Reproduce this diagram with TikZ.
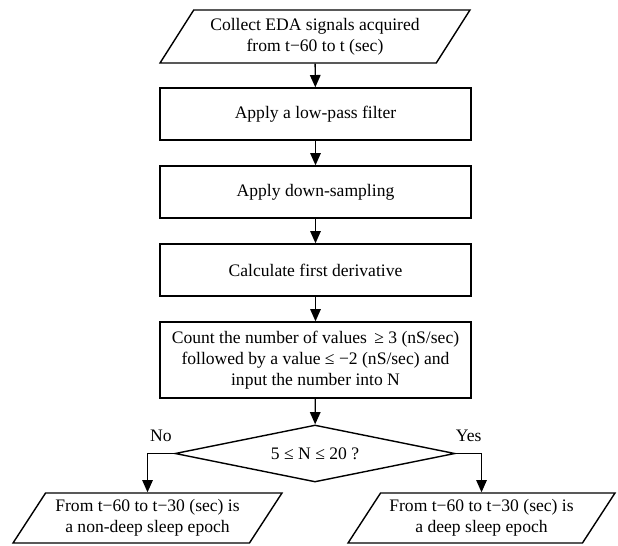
\documentclass[tikz,border=0pt]{standalone}
\usepackage{fontspec}
\setmainfont{Liberation Serif}
\usetikzlibrary{positioning}
\usetikzlibrary{shapes.geometric,arrows.meta}

\tikzset{
  procbox/.style={draw, line width=0.8pt, minimum width=6.22cm, minimum height=1.04cm, align=center, inner sep=1pt},
  iobox/.style={draw, line width=0.8pt, trapezium, trapezium stretches body, trapezium left angle=50, trapezium right angle=130, align=center, inner sep=1pt},
  decbox/.style={draw, line width=0.8pt, diamond, aspect=4.9, minimum width=5.6cm, minimum height=1.14cm, inner sep=0pt},
  flowarrow/.style={line width=0.8pt, -{Triangle[length=7pt,width=6pt]}}
}

\begin{document}
\begin{tikzpicture}[x=0.02cm, y=-0.02cm, font=\fontsize{10}{11.8}\selectfont]
            \useasboundingbox (0,0) rectangle (618,545);
            
            % Input
            \node[iobox, minimum width=6.2cm, minimum height=1.06cm] (collect) at (315,36.5)
            {Collect EDA signals acquired\\from t−60 to t (sec)};
            
            % Processing steps
            \node[procbox] (lowpass) at (315.5,114) {Apply a low-pass filter};
            \node[procbox] (downsamp) at (315.5,192) {Apply down-sampling};
            \node[procbox] (deriv) at (315.5,270) {Calculate first derivative};
            \node[procbox, minimum height=1.52cm] (count) at (315.5,360)
            {Count the number of values \,≥ 3 (nS/sec)\\followed by a value ≤ −2 (nS/sec) and\\input the number into N};
            
            % Decision
            \node[decbox] (check) at (315,453.5) {5 ≤ N ≤ 20 ?};
            
            % Outputs
            \node[iobox, trapezium left angle=51, trapezium right angle=129, minimum width=5.38cm, minimum height=1.0cm] (nondeep) at (147.5,518)
            {From t−60 to t−30 (sec) is\\a non-deep sleep epoch};
            \node[iobox, trapezium left angle=51, trapezium right angle=129, minimum width=5.34cm, minimum height=1.0cm] (deep) at (481.5,518)
            {From t−60 to t−30 (sec) is\\a deep sleep epoch};
            
            % Arrows
            \draw[flowarrow] (collect) -- (lowpass);
            \draw[flowarrow] (lowpass) -- (downsamp);
            \draw[flowarrow] (downsamp) -- (deriv);
            \draw[flowarrow] (deriv) -- (count);
            \draw[flowarrow] (count) -- (check);
            \draw[flowarrow] (check.west) -| node[pos=0.25, above=3pt] {No} (nondeep.north);
            \draw[flowarrow] (check.east) -| node[pos=0.25, above=3pt] {Yes} (deep.north);
            
\end{tikzpicture}
\end{document}
